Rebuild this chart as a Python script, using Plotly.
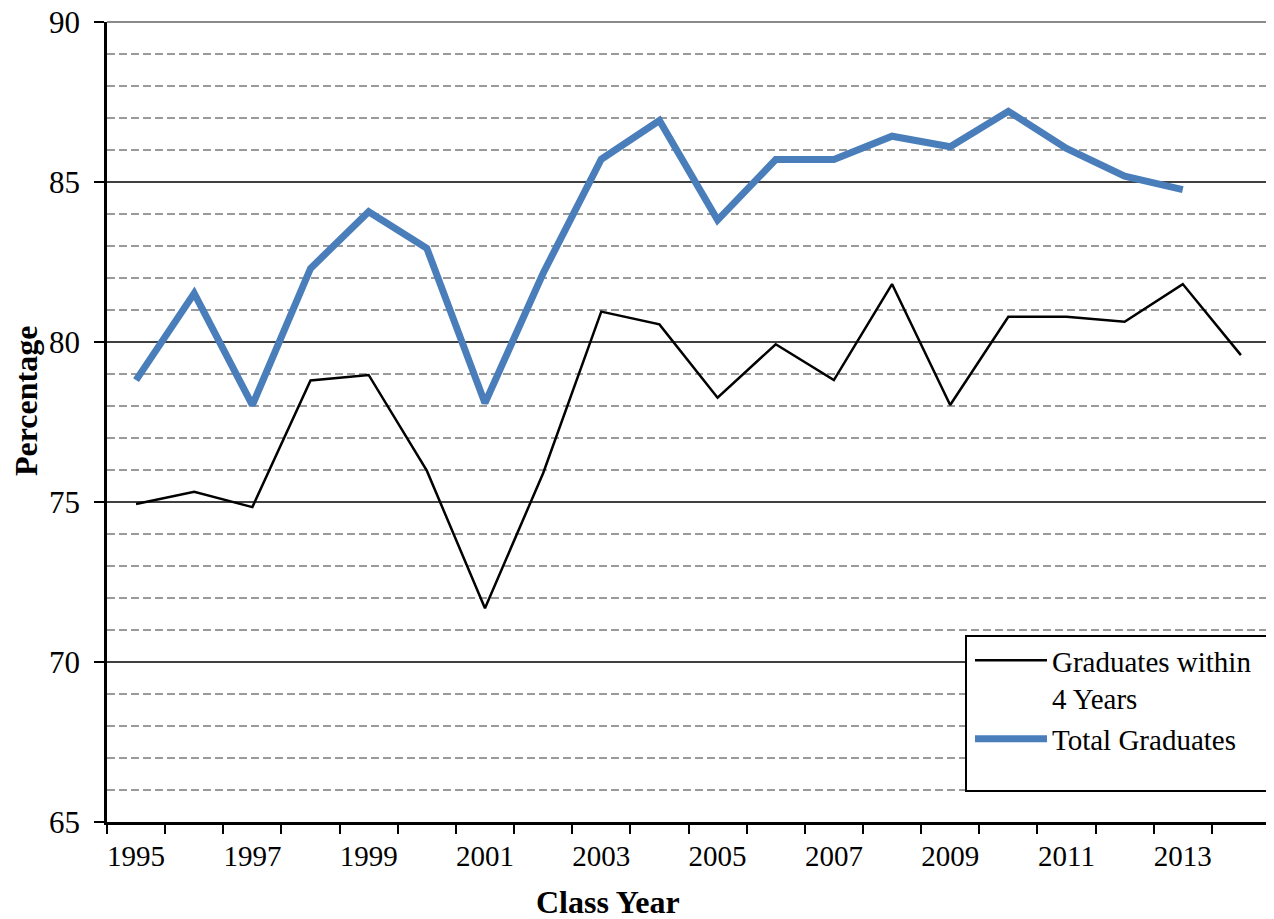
import plotly.graph_objects as go

years = list(range(1995, 2015))
within_4_years = [74.94, 75.32, 74.84, 78.80, 78.97, 75.98, 71.68, 75.90, 80.95, 80.55,
                  78.26, 79.93, 78.81, 81.81, 78.03, 80.79, 80.79, 80.63, 81.81, 79.59]
total_graduates = [78.81, 81.52, 78.03, 82.30, 84.07, 82.93, 78.09, 82.15, 85.71, 86.92,
                   83.81, 85.70, 85.70, 86.43, 86.10, 87.21, 86.05, 85.18, 84.76]
tick_years = list(range(1995, 2015, 2))
y_ticks = [65, 70, 75, 80, 85, 90]

FONT = "Liberation Serif, Times New Roman, serif"

fig = go.Figure()
fig.add_trace(go.Scatter(x=years, y=within_4_years, mode="lines",
                         name="Graduates within<br>4 Years",
                         line=dict(color="black", width=2.5)))
fig.add_trace(go.Scatter(x=years[:len(total_graduates)], y=total_graduates, mode="lines",
                         name="Total Graduates",
                         line=dict(color="#4A7EBB", width=7)))

# page is offset by the browser's 8px body margin
OFF = 8
W, H = 1274 - OFF, 919 - OFF
L, R, T, B = 107 - OFF, 4, 22 - OFF, 97
pw = W - L - R
ph = H - T - B

def px_x(x):  # screenshot pixel -> paper
    return (x - OFF - L) / pw

def px_y(y):
    return (H - B - (y - OFF)) / ph

fig.update_layout(
    width=W, height=H,
    margin=dict(l=L, r=R, t=T, b=B, autoexpand=False),
    paper_bgcolor="white", plot_bgcolor="white",
    font=dict(family=FONT, size=29, color="black"),
    showlegend=True,
    legend=dict(x=px_x(970), y=px_y(635), xanchor="left", yanchor="top",
                bgcolor="rgba(0,0,0,0)", borderwidth=0, valign="top",
                font=dict(family=FONT, size=29, color="black"),
                itemwidth=72, tracegroupgap=0),
    xaxis=dict(range=[1994.5, 2014.5], tickvals=tick_years,
               ticktext=[str(y) for y in tick_years],
               ticks="", showgrid=False, zeroline=False, automargin=False,
               showline=True, linecolor="black", linewidth=2.5,
               tickfont=dict(size=29), ticklabelstandoff=6,
               ticklabeloverflow="allow",
               minor=dict(tick0=1994.5, dtick=1, ticks="outside", ticklen=9,
                          tickwidth=2, tickcolor="black", showgrid=False)),
    yaxis=dict(range=[65, 90], tickvals=y_ticks, automargin=False,
               ticks="outside", ticklen=10, tickwidth=2, tickcolor="black",
               showgrid=True, gridcolor="#404040", gridwidth=2,
               zeroline=False, showline=True, linecolor="black", linewidth=2.5,
               tickfont=dict(size=31), ticklabelstandoff=8,
               ticklabeloverflow="allow",
               minor=dict(dtick=1, showgrid=True, gridcolor="#9a9a9a",
                          gridwidth=2, griddash="8px,4px")),
)

# plot border (top/right, grey) and legend frame
fig.add_shape(type="line", xref="paper", yref="paper", x0=0, x1=1, y0=1, y1=1,
              line=dict(color="#8a8a8a", width=2), layer="above")
fig.add_shape(type="line", xref="paper", yref="paper", x0=1, x1=1, y0=0, y1=1,
              line=dict(color="#8a8a8a", width=2), layer="above")
fig.add_shape(type="rect", xref="paper", yref="paper",
              x0=px_x(966), x1=px_x(1272), y0=px_y(791), y1=px_y(636),
              fillcolor="white", line=dict(color="black", width=2), layer="above")

fig.add_annotation(text="<b>Class Year</b>", xref="paper", yref="paper",
                   x=px_x(608), y=px_y(902), xanchor="center", yanchor="middle",
                   showarrow=False, font=dict(family=FONT, size=32, color="black"))
fig.add_annotation(text="<b>Percentage</b>", xref="paper", yref="paper",
                   x=px_x(26), y=px_y(401), xanchor="center", yanchor="middle",
                   textangle=-90, showarrow=False,
                   font=dict(family=FONT, size=32, color="black"))

fig.write_html("out.html")
